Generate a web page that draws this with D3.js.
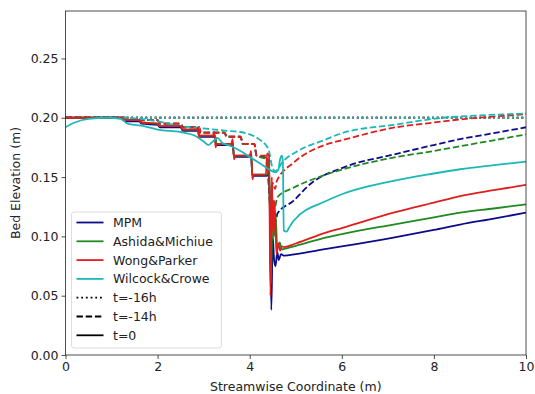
<!DOCTYPE html>
<html>
<head>
<meta charset="utf-8">
<script src="https://cdn.jsdelivr.net/npm/d3@7"></script>
<style>
  body { margin: 0; background: #fff; }
  text { font-family: "DejaVu Sans", sans-serif; }
</style>
</head>
<body>
<script>
// ---- data: [streamwise x (m), bed elevation (m)] ----
var xTicks = [0, 2, 4, 6, 8, 10];
var yTicks = [0, 0.05, 0.10, 0.15, 0.20, 0.25];

var models = ["MPM", "Ashida&Michiue", "Wong&Parker", "Wilcock&Crowe"];
var times = ["t=-16h", "t=-14h", "t=0"];

// t=-16h : initial flat bed, same for all models
var mpm16 = [[0, 0.200], [10, 0.200]];
var ash16 = [[0, 0.200], [10, 0.200]];
var wong16 = [[0, 0.200], [10, 0.200]];
var wil16 = [[0, 0.200], [10, 0.200]];

// t=-14h
var mpm14 = [[0, 0.200], [1.3, 0.200], [1.35, 0.198], [2.0, 0.198], [2.05, 0.195], [2.5, 0.195], [2.55, 0.192],
  [2.9, 0.192], [2.93, 0.1875], [3.45, 0.1875], [3.5, 0.184], [3.8, 0.184], [3.85, 0.178], [4.1, 0.178],
  [4.15, 0.168], [4.37, 0.166], [4.42, 0.14], [4.47, 0.11], [4.52, 0.12], [4.56, 0.112], [4.6, 0.119],
  [4.95, 0.130], [5.31, 0.144], [6.03, 0.158], [7.12, 0.169], [8.0, 0.177], [8.57, 0.182], [9.3, 0.187], [10, 0.192]];
var ash14 = [[0, 0.200], [1.3, 0.200], [1.35, 0.198], [2.0, 0.198], [2.05, 0.195], [2.5, 0.195], [2.55, 0.192],
  [2.9, 0.192], [2.93, 0.1875], [3.45, 0.1875], [3.5, 0.184], [3.8, 0.184], [3.85, 0.178], [4.1, 0.178],
  [4.15, 0.168], [4.37, 0.165], [4.42, 0.14], [4.47, 0.115], [4.52, 0.13], [4.55, 0.125], [4.6, 0.133],
  [4.95, 0.141], [5.5, 0.150], [6.03, 0.1566], [7.12, 0.1664], [8.0, 0.172], [8.57, 0.176], [9.3, 0.181], [10, 0.186]];
var wong14 = [[0, 0.200], [1.3, 0.200], [1.35, 0.198], [2.0, 0.198], [2.05, 0.195], [2.5, 0.195], [2.55, 0.192],
  [2.9, 0.192], [2.92, 0.190], [2.94, 0.1875], [3.45, 0.1875], [3.48, 0.186], [3.5, 0.184], [3.8, 0.184],
  [3.83, 0.181], [3.86, 0.178], [4.1, 0.178], [4.13, 0.171], [4.15, 0.168], [4.37, 0.168], [4.40, 0.160],
  [4.45, 0.13], [4.5, 0.145], [4.55, 0.14], [4.59, 0.1468], [4.95, 0.162], [5.67, 0.1776], [6.0, 0.181],
  [7.12, 0.1916], [8.0, 0.196], [8.57, 0.1986], [9.3, 0.201], [10, 0.203]];
var wil14 = [[0, 0.200], [1.2, 0.200], [2.0, 0.197], [2.5, 0.193], [3.0, 0.191], [3.5, 0.189], [3.8, 0.188],
  [4.0, 0.186], [4.2, 0.182], [4.35, 0.177], [4.42, 0.172], [4.48, 0.160], [4.55, 0.155], [4.62, 0.157],
  [4.7, 0.162], [4.77, 0.165], [5.0, 0.171], [5.67, 0.182], [6.0, 0.187], [7.12, 0.194], [8.2, 0.200],
  [9.0, 0.202], [10, 0.2035]];

// t=0
var mpm0 = [[0, 0.200], [1.2, 0.200], [1.3, 0.197], [1.6, 0.197], [1.65, 0.195], [2.0, 0.194], [2.05, 0.192],
  [2.5, 0.192], [2.55, 0.189], [2.88, 0.189], [2.9, 0.184], [3.25, 0.184], [3.28, 0.177], [3.63, 0.177],
  [3.66, 0.167], [4.03, 0.167], [4.06, 0.151], [4.38, 0.151], [4.42, 0.16], [4.47, 0.038], [4.5, 0.10],
  [4.53, 0.08], [4.56, 0.075], [4.6, 0.087], [4.63, 0.08], [4.68, 0.085], [4.75, 0.0838], [5.0, 0.085],
  [5.67, 0.0894], [6.0, 0.0915], [7.12, 0.099], [8.0, 0.1055], [8.57, 0.110], [9.3, 0.115], [10, 0.120]];
var ash0 = [[0, 0.200], [1.2, 0.200], [1.3, 0.198], [1.6, 0.198], [1.65, 0.196], [2.0, 0.195], [2.05, 0.193],
  [2.5, 0.193], [2.55, 0.190], [2.88, 0.190], [2.9, 0.185], [3.25, 0.185], [3.28, 0.178], [3.63, 0.178],
  [3.66, 0.168], [4.03, 0.168], [4.06, 0.152], [4.38, 0.152], [4.42, 0.165], [4.46, 0.06], [4.5, 0.13],
  [4.53, 0.10], [4.56, 0.12], [4.6, 0.09], [4.65, 0.095], [4.7, 0.089], [4.75, 0.0895], [5.0, 0.092],
  [5.67, 0.0992], [6.0, 0.102], [7.12, 0.110], [8.0, 0.116], [8.57, 0.120], [9.3, 0.1235], [10, 0.127]];
var wong0 = [[0, 0.200], [1.2, 0.200], [1.3, 0.198], [1.6, 0.198], [1.65, 0.196], [2.0, 0.195], [2.05, 0.193],
  [2.5, 0.193], [2.55, 0.190], [2.85, 0.190], [2.88, 0.192], [2.9, 0.183], [2.93, 0.185], [3.2, 0.185],
  [3.23, 0.188], [3.26, 0.175], [3.29, 0.178], [3.6, 0.178], [3.63, 0.182], [3.66, 0.165], [3.69, 0.168],
  [4.0, 0.168], [4.03, 0.172], [4.06, 0.148], [4.09, 0.152], [4.35, 0.152], [4.38, 0.170], [4.42, 0.168],
  [4.45, 0.05], [4.48, 0.15], [4.51, 0.10], [4.54, 0.13], [4.58, 0.085], [4.62, 0.094], [4.66, 0.088],
  [4.7, 0.0915], [4.75, 0.091], [5.0, 0.094], [5.67, 0.1034], [6.0, 0.107], [7.12, 0.120], [8.0, 0.1285],
  [8.57, 0.134], [9.3, 0.139], [10, 0.1434]];
var wil0 = [[0, 0.192], [0.2, 0.196], [0.5, 0.199], [0.9, 0.200], [1.2, 0.199], [1.35, 0.195], [1.5, 0.194],
  [1.7, 0.193], [2.0, 0.190], [2.5, 0.188], [2.8, 0.185], [3.0, 0.180], [3.1, 0.177], [3.2, 0.180],
  [3.3, 0.183], [3.4, 0.179], [3.6, 0.176], [3.8, 0.172], [4.0, 0.167], [4.2, 0.162], [4.4, 0.157],
  [4.55, 0.154], [4.62, 0.156], [4.66, 0.165], [4.7, 0.168], [4.72, 0.163], [4.74, 0.105], [4.8, 0.104],
  [4.85, 0.107], [4.95, 0.113], [5.67, 0.130], [6.0, 0.1355], [7.12, 0.1468], [8.0, 0.153], [8.57, 0.1566],
  [9.3, 0.160], [10, 0.163]];

// set the dimensions and margins of the graph
var margin = {top: 11, right: 9, bottom: 39, left: 65.5},
    width = 535 - margin.left - margin.right,
    height = 394 - margin.top - margin.bottom;

var colors = ["#0b0b8c", "#1f8a1f", "#e01e1e", "#1cb8b8"];
var dashes = ["1.8,2.9", "6.4,2.8", null];

var x = d3.scaleLinear().domain([0, 10]).range([0, width]);
var y = d3.scaleLinear().domain([0, 0.29]).range([height, 0]);

var svg = d3.select("body").append("svg")
    .attr("width", width + margin.left + margin.right)
    .attr("height", height + margin.top + margin.bottom)
    .append("g")
    .attr("transform", "translate(" + margin.left + "," + margin.top + ")");

svg.append("clipPath")
    .attr("id", "rect-clip")
    .append("rect")
    .attr("x", 0)
    .attr("y", 0)
    .attr("width", width)
    .attr("height", height);

// smooth through the read points (the far-field curves are smooth in the original)
var line = d3.line()
    .curve(d3.curveMonotoneX)
    .x(function (d) { return x(d[0]); })
    .y(function (d) { return y(d[1]); });

// draw order: by time, then model (cyan ends on top like the original)
var series = [
    [mpm16, ash16, wong16, wil16],
    [mpm14, ash14, wong14, wil14],
    [mpm0, ash0, wong0, wil0]
];

series.forEach(function (group, t) {
    group.forEach(function (pts, m) {
        svg.append("path")
            .datum(pts)
            .attr("clip-path", "url(#rect-clip)")
            .attr("d", line)
            .attr("fill", "none")
            .attr("stroke", colors[m])
            .attr("stroke-width", 1.8)
            .attr("stroke-linejoin", "round")
            .attr("stroke-dasharray", dashes[t]);
    });
});

// axes
var xAxis = svg.append("g")
    .attr("transform", "translate(0," + height + ")")
    .call(d3.axisBottom(x).tickValues(xTicks).tickSize(4).tickPadding(3).tickFormat(d3.format("d")));
var yAxis = svg.append("g")
    .call(d3.axisLeft(y).tickValues(yTicks).tickSize(4).tickPadding(3).tickFormat(d3.format(".2f")));

[xAxis, yAxis].forEach(function (a) {
    a.select(".domain").remove();
    a.selectAll("text").style("font-size", "12.5px").attr("fill", "#222");
    a.selectAll("line").attr("stroke", "#222").attr("stroke-width", 0.8);
});

// frame
svg.append("rect")
    .attr("width", width)
    .attr("height", height)
    .attr("fill", "none")
    .attr("stroke", "#222")
    .attr("stroke-width", 0.8);

svg.append("text")
    .attr("x", width / 2)
    .attr("y", height + 36)
    .attr("text-anchor", "middle")
    .style("font-size", "12.5px")
    .attr("fill", "#222")
    .text("Streamwise Coordinate (m)");

svg.append("text")
    .attr("transform", "translate(" + (-46) + "," + (height / 2) + ")rotate(-90)")
    .attr("text-anchor", "middle")
    .style("font-size", "12.5px")
    .attr("fill", "#222")
    .text("Bed Elevation (m)");

// legend
var legendItems = models.map(function (m, i) { return {label: m, color: colors[i], dash: null}; })
    .concat(times.map(function (t, i) { return {label: t, color: "#000", dash: dashes[i]}; }));

var legend = svg.append("g")
    .attr("transform", "translate(6,201)");

legend.append("rect")
    .attr("width", 150)
    .attr("height", 136)
    .attr("rx", 2.5)
    .attr("fill", "#fff")
    .attr("fill-opacity", 0.8)
    .attr("stroke", "#d6d6d6")
    .attr("stroke-width", 0.8);

var rows = legend.selectAll("g.row")
    .data(legendItems)
    .enter()
    .append("g")
    .attr("transform", function (d, i) { return "translate(0," + (10.5 + i * 18.8) + ")"; });

rows.append("line")
    .attr("x1", 5)
    .attr("x2", 32)
    .attr("stroke", function (d) { return d.color; })
    .attr("stroke-width", 1.8)
    .attr("stroke-dasharray", function (d) { return d.dash; });

rows.append("text")
    .attr("x", 41.5)
    .attr("dy", "0.36em")
    .style("font-size", "12.5px")
    .attr("fill", "#222")
    .text(function (d) { return d.label; });
</script>
</body>
</html>
